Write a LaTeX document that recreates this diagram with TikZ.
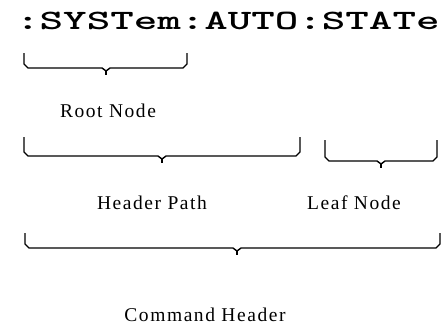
\documentclass[tikz,border=0pt]{standalone}
\usepackage{fontspec}
\setmainfont{Liberation Serif}
\newfontfamily\lblfont[LetterSpace=8]{Liberation Serif}
\usepackage{tikz}
\tikzset{
  bracket/.style={line width=1.4pt, line join=miter},
  lbl/.style={font=\lblfont\fontsize{19.5}{19.5}\selectfont, anchor=base, inner sep=0pt},
  cmd/.style={font=\ttfamily\bfseries\fontsize{28}{28}\selectfont, anchor=base west, inner sep=0pt}
}
% #1 left x, #2 right x, #3 top y, #4 bar y, #5 tip x
\newcommand{\capbrace}[5]{%
  \draw[bracket] (#1,#3) -- (#1,#4-4) -- (#1+4,#4) -- (#5-4,#4) -- (#5,#4+3)
    -- (#5+4,#4) -- (#2-4,#4) -- (#2,#4-4) -- (#2,#3);
  \draw[bracket] (#5,#4+3) -- (#5,#4+7);}

\begin{document}
\begin{tikzpicture}[x=1pt, y=-1pt]
  \useasboundingbox (0,0) rectangle (442,324);
  \node[cmd] (header) at (16,29.5) {\scalebox{1.6}[1]{:SYSTem:AUTO:STATe}};
  \capbrace{24}{187}{53}{68}{106}
  \node[lbl] (root) at (108,117) {Root Node};
  \capbrace{24}{300}{137}{156}{162}
  \capbrace{325}{437}{140}{161}{381}
  \node[lbl] (path) at (152,209) {Header Path};
  \node[lbl] (leaf) at (354,209) {Leaf Node};
  \capbrace{25}{440}{233}{248}{237}
  \node[lbl] (cmdhdr) at (205,321) {Command Header};
\end{tikzpicture}
\end{document}
